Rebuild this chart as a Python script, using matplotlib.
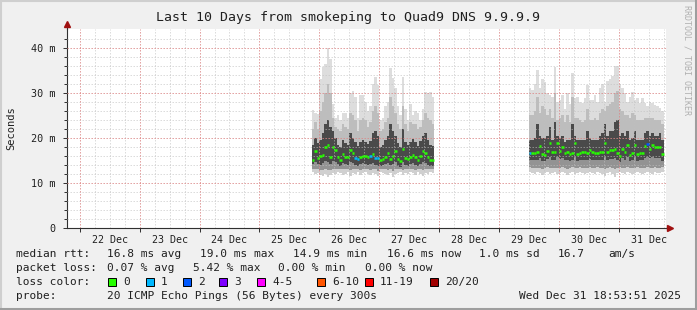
import numpy as np
import pandas as pd
import matplotlib
matplotlib.use("Agg")
import matplotlib.pyplot as plt
import matplotlib.dates as mdates
from matplotlib.lines import Line2D
from matplotlib.patches import Rectangle

W, H = 697, 310

# ---- data (ms), one value per hour ----
start_a = "2025-12-25 21:00"
median_a = [15.1, 17.2, 15.6, 16.0, 16.3, 18.1, 18.5, 15.8, 18.1, 17.4,
            15.8, 15.1, 16.4, 15.8, 15.8, 17.4, 16.7, 15.6, 15.3, 15.8,
            16.0, 16.0, 15.8, 16.0, 16.4, 15.6, 15.6, 15.1, 15.3, 15.8,
            16.7, 15.3, 16.0, 17.2, 15.3, 14.9, 17.6, 15.6, 15.3, 15.8,
            16.3, 15.8, 15.1, 16.0, 17.2, 16.7, 15.8, 15.1, 15.1]
loss_a = [0, 0, 0, 0, 0, 0, 0, 0, 0, 0, 0, 0, 0, 0, 0, 0, 0, 1, 1, 0,
          0, 0, 0, 1, 0, 1, 1, 0, 0, 0, 0, 0, 0, 0, 0, 0, 0, 0, 0, 0,
          0, 0, 0, 0, 0, 0, 0, 0, 0]
hi_a = [26.2, 25.5, 25.3, 33.0, 35.8, 36.5, 40.0, 37.5, 27.5, 24.5,
        25.0, 24.0, 25.5, 25.5, 24.5, 30.0, 30.5, 29.0, 24.5, 29.5,
        29.5, 28.0, 26.0, 27.0, 32.0, 33.5, 31.8, 24.0, 24.5, 27.0,
        28.0, 35.5, 33.3, 31.0, 27.0, 25.0, 33.6, 26.5, 24.0, 27.5,
        25.0, 26.0, 25.5, 24.0, 26.5, 30.3, 30.0, 30.3, 29.0]
p90_a = [22.0, 23.5, 22.0, 26.0, 28.0, 30.0, 32.0, 30.0, 24.5, 22.5,
         22.0, 21.5, 23.0, 22.5, 22.0, 25.5, 25.0, 24.0, 21.5, 24.0,
         24.5, 24.0, 22.5, 23.5, 26.0, 27.0, 25.5, 21.5, 22.0, 23.5,
         24.5, 29.0, 27.0, 25.5, 23.0, 22.0, 27.0, 23.0, 21.5, 23.5,
         23.0, 23.0, 22.0, 22.5, 24.0, 25.5, 24.5, 24.0, 23.0]
q3_a = [18.5, 20.0, 18.8, 19.5, 21.0, 23.0, 24.0, 22.5, 21.5, 20.0,
        18.5, 18.0, 19.5, 18.8, 18.5, 21.0, 20.0, 19.0, 18.2, 19.0,
        19.5, 19.2, 18.6, 19.4, 21.0, 21.5, 20.5, 18.0, 18.4, 19.5,
        20.5, 23.0, 21.5, 20.5, 18.8, 18.0, 22.0, 19.0, 18.4, 19.2,
        19.8, 19.0, 18.2, 19.4, 20.5, 21.0, 19.5, 18.4, 18.2]
q1_a = [14.2, 14.6, 14.2, 14.0, 14.4, 14.8, 14.6, 14.2, 14.8, 14.6,
        14.2, 13.8, 14.4, 14.2, 14.0, 14.6, 14.4, 14.0, 13.8, 14.2,
        14.4, 14.2, 14.0, 14.2, 14.4, 14.0, 13.8, 13.8, 14.0, 14.2,
        14.4, 14.0, 14.2, 14.6, 13.8, 13.6, 14.6, 14.0, 13.8, 14.2,
        14.4, 14.0, 13.8, 14.2, 14.6, 14.4, 14.0, 13.8, 13.8]
p10_a = [13.2, 13.2, 13.0, 12.8, 12.8, 13.2, 12.8, 12.8, 13.2, 13.2,
         13.2, 13.0, 13.0, 13.0, 13.2, 12.8, 13.2, 13.0, 13.2, 12.8,
         13.2, 13.2, 13.0, 12.8, 13.2, 13.0, 12.6, 13.2, 13.2, 13.0,
         12.8, 13.0, 12.6, 13.0, 13.2, 13.2, 12.8, 13.2, 13.0, 13.2,
         13.2, 12.8, 13.2, 13.0, 12.8, 13.2, 13.0, 13.2, 13.2]
lo_a = [12.4, 12.0, 12.2, 11.8, 11.6, 12.0, 11.4, 11.8, 12.2, 12.0,
        12.4, 12.2, 11.8, 12.0, 12.4, 11.6, 12.2, 12.0, 12.4, 11.8,
        12.2, 12.4, 12.0, 11.8, 12.2, 12.0, 11.6, 12.4, 12.2, 12.0,
        11.8, 12.2, 11.4, 12.0, 12.2, 12.4, 11.8, 12.2, 12.0, 12.4,
        12.2, 11.8, 12.4, 12.0, 11.6, 12.2, 12.0, 12.4, 12.2]

start_b = "2025-12-29 12:00"
median_b = [16.7, 16.7, 16.7, 16.9, 18.2, 16.4, 16.3, 17.2, 18.9, 16.9,
            16.9, 18.9, 17.2, 17.9, 16.7, 16.8, 16.4, 16.7, 18.9, 16.4,
            16.7, 16.9, 16.9, 16.7, 17.4, 16.9, 16.7, 16.7, 16.9, 16.9,
            18.9, 16.9, 17.4, 17.4, 17.6, 16.7, 16.0, 17.6, 16.9, 18.5,
            16.3, 16.7, 18.5, 16.4, 16.7, 16.7, 18.2, 18.7, 17.6, 18.5,
            17.9, 17.9, 18.1, 16.4]
loss_b = [1, 0, 0, 0, 0, 0, 0, 0, 0, 0, 0, 0, 0, 0, 0, 0, 0, 0, 0, 0,
          0, 0, 0, 0, 0, 0, 0, 0, 0, 0, 0, 0, 0, 0, 0, 0, 0, 0, 0, 0,
          0, 0, 0, 0, 0, 0, 0, 2, 0, 0, 0, 0, 0, 0]
hi_b = [31.0, 30.7, 32.0, 35.0, 31.0, 33.0, 32.5, 30.0, 29.5, 29.0,
        35.8, 28.0, 28.5, 29.5, 26.5, 30.0, 27.5, 34.4, 28.8, 29.2,
        28.0, 27.7, 28.8, 31.8, 28.4, 28.4, 29.5, 28.0, 31.0, 31.9,
        28.0, 32.6, 33.0, 33.7, 35.9, 36.0, 31.9, 31.0, 29.9, 28.0,
        29.2, 30.3, 28.4, 28.8, 27.7, 28.8, 27.7, 27.0, 28.0, 27.7,
        27.3, 27.0, 26.6, 26.0]
p90_b = [25.0, 25.0, 26.0, 29.0, 25.5, 27.0, 26.5, 25.0, 26.5, 24.5,
         30.0, 24.0, 24.5, 25.0, 23.5, 25.0, 23.5, 29.0, 24.5, 24.5,
         24.0, 23.5, 24.0, 26.5, 24.0, 24.0, 24.5, 24.0, 25.5, 26.5,
         26.0, 27.0, 27.5, 28.0, 30.0, 30.5, 26.5, 26.0, 25.0, 25.0,
         24.5, 25.5, 25.0, 24.0, 24.0, 24.0, 24.5, 24.5, 24.5, 24.5,
         24.0, 24.0, 24.0, 23.0]
q3_b = [19.5, 19.5, 20.0, 23.0, 20.5, 20.0, 20.0, 20.5, 22.5, 19.5,
        23.5, 20.5, 20.0, 20.5, 19.0, 19.5, 19.5, 23.0, 20.5, 19.5,
        19.5, 19.5, 19.5, 21.5, 20.0, 19.5, 19.5, 19.5, 20.5, 21.0,
        23.0, 20.5, 21.5, 21.5, 23.5, 24.0, 20.5, 21.0, 20.5, 21.5,
        19.5, 20.0, 21.5, 19.5, 19.5, 19.5, 21.0, 21.5, 20.5, 21.0,
        20.5, 20.5, 21.0, 19.5]
q1_b = [15.0, 15.0, 15.0, 15.2, 15.6, 14.8, 14.8, 15.4, 15.8, 15.0,
        15.2, 15.8, 15.4, 15.6, 15.0, 15.0, 14.8, 15.0, 15.8, 14.8,
        15.0, 15.2, 15.2, 15.0, 15.4, 15.2, 15.0, 15.0, 15.2, 15.2,
        15.8, 15.2, 15.4, 15.4, 15.6, 15.0, 14.6, 15.6, 15.2, 15.8,
        14.8, 15.0, 15.8, 14.8, 15.0, 15.0, 15.6, 15.8, 15.6, 15.8,
        15.6, 15.6, 15.6, 14.8]
p10_b = [13.6, 13.4, 13.4, 13.4, 13.4, 13.2, 13.4, 13.6, 13.4, 13.4,
         13.4, 13.4, 13.4, 13.6, 13.4, 13.2, 13.4, 13.6, 13.4, 13.4,
         13.6, 13.4, 13.4, 13.4, 13.6, 13.4, 13.4, 13.6, 13.4, 13.4,
         13.0, 13.4, 13.6, 13.4, 13.0, 13.4, 13.6, 13.4, 13.4, 13.6,
         13.4, 13.4, 13.4, 13.6, 13.4, 13.4, 13.4, 13.6, 13.4, 13.4,
         13.6, 13.4, 13.4, 13.6]
lo_b = [12.4, 12.2, 12.0, 12.4, 12.2, 11.8, 12.2, 12.4, 12.0, 12.2,
        12.4, 12.0, 12.2, 12.4, 12.2, 11.8, 12.2, 12.4, 12.0, 12.2,
        12.4, 12.2, 12.0, 12.2, 12.4, 12.2, 12.0, 12.4, 12.2, 12.0,
        11.6, 12.2, 12.4, 12.0, 11.4, 12.2, 12.4, 12.2, 12.0, 12.4,
        12.2, 12.0, 12.2, 12.4, 12.2, 12.0, 12.2, 12.4, 12.2, 12.0,
        12.4, 12.2, 12.2, 12.4]

loss_colors = ["#26ff00", "#00b8ff", "#0059ff", "#7e00ff",
               "#ff00ff", "#ff5500", "#ff0000", "#a10000"]
loss_labels = ["0", "1", "2", "3", "4-5", "6-10", "11-19", "20/20"]

t_end = pd.Timestamp("2025-12-31 18:53:51")
t_start = t_end - pd.Timedelta(days=10)

plt.rcParams["font.family"] = ["DejaVu Sans Mono"]
TXT = "#202020"

fig = plt.figure(figsize=(W / 100, H / 100), dpi=100, facecolor="#f0f0f0")
L, R, T, B = 67, 666, 29, 228
ax = fig.add_axes([L / W, 1 - B / H, (R - L) / W, (B - T) / H])
ax.set_facecolor("white")

def fx(x):
    return x / W

def fy(y):
    return 1 - y / H

hour = 1 / 24.0

def draw_block(start, lo, p10, q1, med, q3, p90, hi, loss):
    x = mdates.date2num(pd.date_range(start, periods=len(med), freq="h"))
    bands = [(lo, p10, "#d0d0d0"), (p10, q1, "#939393"), (q1, q3, "#4a4a4a"),
             (q3, p90, "#bdbdbd"), (p90, hi, "#dddddd")]
    for a, b, c in bands:
        a = np.asarray(a)
        b = np.asarray(b)
        ax.bar(x, b - a, width=hour, bottom=a, align="edge", color=c,
               linewidth=0, zorder=1)
    cols = [loss_colors[v] if v < 4 else loss_colors[4] for v in loss]
    ax.hlines(med, x, x + hour, colors=cols, linewidth=1.8, zorder=5)

draw_block(start_a, lo_a, p10_a, q1_a, median_a, q3_a, p90_a, hi_a, loss_a)
draw_block(start_b, lo_b, p10_b, q1_b, median_b, q3_b, p90_b, hi_b, loss_b)

ax.set_xlim(mdates.date2num(t_start), mdates.date2num(t_end))
ax.set_ylim(0, 44.2)

# grid, drawn faintly over the smoke like rrdtool does
dots = (0, (1.5, 1.5))
days = pd.date_range("2025-12-22", "2025-12-31", freq="D")
quarters = pd.date_range("2025-12-21 18:00", "2025-12-31 18:00", freq="6h")
for q in mdates.date2num(quarters):
    ax.axvline(q, color="#c0c0c0", alpha=0.55, lw=0.72, ls=dots, zorder=3)
for yv in np.arange(2, 44, 2):
    ax.axhline(yv, color="#c0c0c0", alpha=0.55, lw=0.72, ls=dots, zorder=3)
for d in mdates.date2num(days):
    ax.axvline(d, color="#f06060", alpha=0.45, lw=0.72, ls=dots, zorder=4)
for yv in [10, 20, 30, 40]:
    ax.axhline(yv, color="#f06060", alpha=0.45, lw=0.72, ls=dots, zorder=4)

for s in ["top", "right"]:
    ax.spines[s].set_visible(False)
for s in ["left", "bottom"]:
    ax.spines[s].set_color("#303030")
    ax.spines[s].set_linewidth(0.8)

ax.set_yticks([0, 10, 20, 30, 40])
ax.set_yticklabels(["0", "10 m", "20 m", "30 m", "40 m"])
ax.set_yticks(np.arange(0, 44, 2), minor=True)
ax.tick_params(axis="y", which="major", length=3, width=0.7, pad=5,
               labelsize=7.3, colors="#303030", labelcolor=TXT)
ax.tick_params(axis="y", which="minor", length=2, width=0.7, colors="#303030")

ax.set_xticks(mdates.date2num(days))
ax.set_xticklabels([])
ax.set_xticks(mdates.date2num(days + pd.Timedelta(hours=12)), minor=True)
ax.set_xticklabels([d.strftime("%d %b") for d in days], minor=True)
ax.tick_params(axis="x", which="major", length=3, width=0.7, colors="#303030")
ax.tick_params(axis="x", which="minor", length=0, pad=5, labelsize=7.2,
               labelcolor=TXT)

ax.set_ylabel("Seconds", fontsize=7.5, color=TXT, labelpad=11)

# axis arrows
fig.add_artist(Line2D([fx(L), fx(L)], [fy(T), fy(24)], color="#303030", lw=0.8))
fig.add_artist(Line2D([fx(R), fx(670)], [fy(B), fy(B)], color="#303030", lw=0.8))
fig.add_artist(Line2D([fx(L)], [fy(24)], marker="^", ms=4, color="#a01010", lw=0))
fig.add_artist(Line2D([fx(670)], [fy(B)], marker=">", ms=4, color="#a01010", lw=0))

fig.text(fx(348), fy(18), "Last 10 Days from smokeping to Quad9 DNS 9.9.9.9",
         ha="center", va="center", fontsize=9.5, color=TXT)
fig.text(fx(687), fy(5), "RRDTOOL / TOBI OETIKER", rotation=270,
         ha="center", va="top", fontsize=6, color="#b0b0b0")

FS = 8
rows = [
    (254, [(16, "median rtt:"), (107, "16.8 ms avg"), (200, "19.0 ms max"),
           (293, "14.9 ms min"), (387, "16.6 ms now"), (479, "1.0 ms sd"),
           (558, "16.7"), (608, "am/s")]),
    (268, [(16, "packet loss:"), (107, "0.07 % avg"), (193, "5.42 % max"),
           (278, "0.00 % min"), (365, "0.00 % now")]),
    (282, [(16, "loss color:")]),
    (296, [(16, "probe:"), (107, "20 ICMP Echo Pings (56 Bytes) every 300s")]),
]
for y, items in rows:
    for x, s in items:
        fig.text(fx(x), fy(y), s, ha="left", va="center", fontsize=FS, color=TXT)
fig.text(fx(681), fy(296), "Wed Dec 31 18:53:51 2025", ha="right",
         va="center", fontsize=FS, color=TXT)

box_x = [108, 146, 183, 219, 257, 317, 365, 430]
for bx, c, lab in zip(box_x, loss_colors, loss_labels):
    fig.add_artist(Rectangle((fx(bx), fy(286)), 8 / W, 8 / H, facecolor=c,
                             edgecolor="black", lw=0.7,
                             transform=fig.transFigure))
    fig.text(fx(bx + 15), fy(282), lab, ha="left", va="center", fontsize=FS,
             color=TXT)

# frame shading
fig.add_artist(Line2D([0, 1], [fy(0.5), fy(0.5)], color="#cfcfcf", lw=1.5))
fig.add_artist(Line2D([fx(0.5), fx(0.5)], [0, 1], color="#cfcfcf", lw=1.5))
fig.add_artist(Line2D([0, 1], [fy(309), fy(309)], color="#9e9e9e", lw=2.2))
fig.add_artist(Line2D([fx(696), fx(696)], [0, 1], color="#9e9e9e", lw=2.2))

fig.savefig("out.png", dpi=100, facecolor=fig.get_facecolor())
